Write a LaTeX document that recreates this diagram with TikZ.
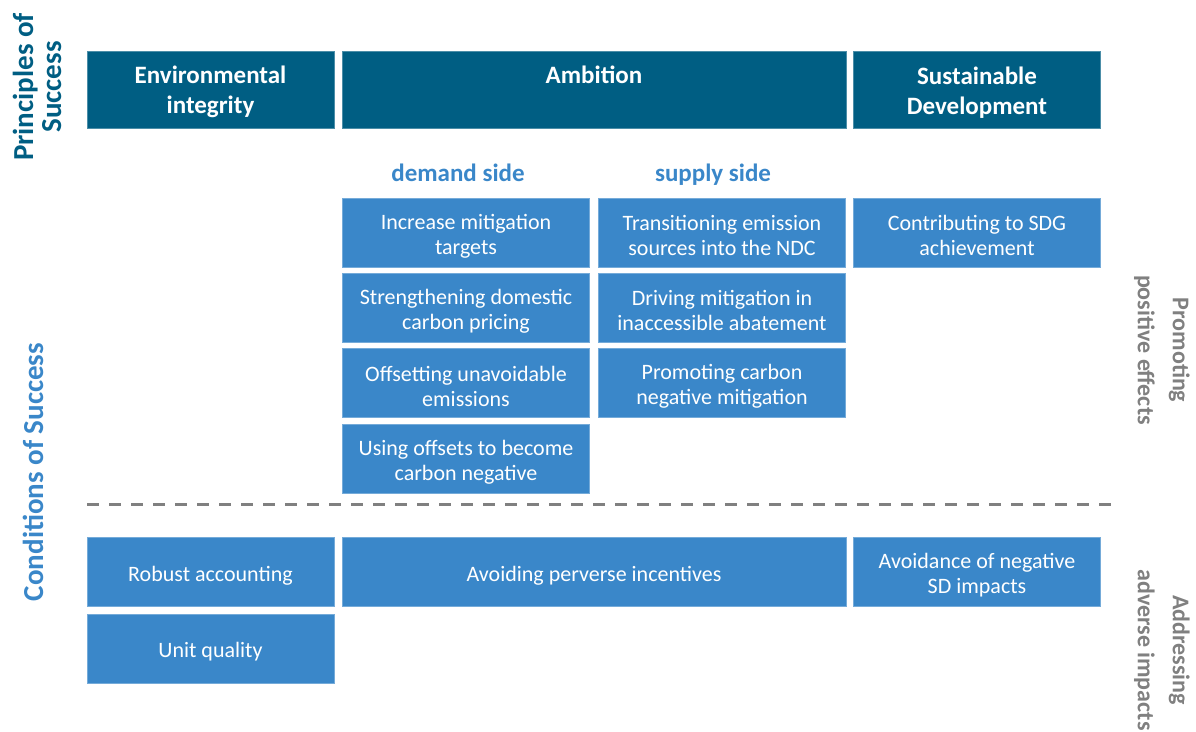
\documentclass[tikz,border=0pt]{standalone}
\usepackage{fontspec}
\setmainfont{Carlito}
\definecolor{darkteal}{HTML}{005E83}
\definecolor{midblue}{HTML}{3A87C9}
\definecolor{labelgray}{HTML}{808080}
\tikzset{
  principle/.style={rectangle, fill=darkteal, draw=darkteal!70!white, line width=0.8pt, text=white,
    font=\bfseries\fontsize{25}{30}\selectfont, align=center, inner sep=0pt,
    minimum width=247, minimum height=77, text height=52pt},
  condition/.style={rectangle, fill=midblue, draw=midblue!70!white, line width=0.8pt, text=white,
    font=\fontsize{22}{25}\selectfont, align=center, inner sep=0pt,
    minimum width=247, minimum height=69, text height=47pt},
  oneline/.style={text height=22pt},
  sidelabel/.style={font=\bfseries\fontsize{25}{30}\selectfont, text=midblue, anchor=base},
  axislabel/.style={font=\bfseries\fontsize{29}{28}\selectfont, align=center, inner sep=0pt}
}
\begin{document}
\begin{tikzpicture}[x=1pt,y=-1pt]
	\useasboundingbox (0,0) rectangle (1196,731);
	
	% principles of success
	\node[principle] (envint) at (210.5,90) {Environmental\\integrity};
	\node[principle, minimum width=504] (ambition) at (594,90) {Ambition\\[0pt]\vphantom{g}};
	\node[principle] (susdev) at (977,90) {Sustainable\\Development};
	
	% demand and supply side
	\node[sidelabel] (demand) at (458,181) {demand side};
	\node[sidelabel] (supply) at (713,181) {supply side};
	
	% demand side column
	\node[condition] (dem1) at (466,232.5) {Increase mitigation\\targets};
	\node[condition] (dem2) at (466,307.5) {Strengthening domestic\\carbon pricing};
	\node[condition] (dem3) at (466,383) {Offsetting unavoidable\\emissions};
	\node[condition] (dem4) at (466,458.5) {Using offsets to become\\carbon negative};
	
	% supply side column
	\node[condition] (sup1) at (722,232.5) {Transitioning emission\\sources into the NDC};
	\node[condition] (sup2) at (722,307.5) {Driving mitigation in\\inaccessible abatement};
	\node[condition] (sup3) at (722,383) {Promoting carbon\\negative mitigation};
	
	\node[condition] (sdg) at (977,232.5) {Contributing to SDG\\achievement};
	
	% separator
	\draw[labelgray, line width=3pt, dash pattern=on 12pt off 10pt] (87,504) -- (1120,504);
	
	% adverse impacts
	\node[condition, oneline] (robust) at (210.5,572) {Robust accounting};
	\node[condition, oneline, minimum width=504] (perverse) at (594,572) {Avoiding perverse incentives};
	\node[condition] (negsd) at (977,572) {Avoidance of negative\\SD impacts};
	\node[condition, oneline] (unitq) at (210.5,648.5) {Unit quality};
	
	% side labels
	\node[axislabel, text=darkteal, rotate=90] (principles) at (37,87) {Principles of\\Success};
	\node[axislabel, text=midblue, rotate=90] (conditions) at (33,472) {Conditions of Success};
	\node[axislabel, text=labelgray, rotate=-90, font=\bfseries\fontsize{24}{35}\selectfont] (positive) at (1162,350) {Promoting\\positive effects};
	\node[axislabel, text=labelgray, rotate=-90, font=\bfseries\fontsize{24}{35}\selectfont] (adverse) at (1162,650) {Addressing\\adverse impacts};
\end{tikzpicture}
\end{document}
